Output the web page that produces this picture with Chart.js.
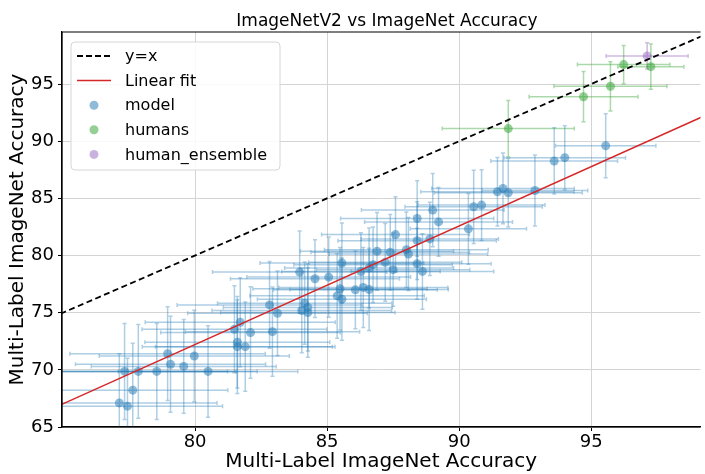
<!DOCTYPE html>
<html>
<head>
<meta charset="utf-8">
<script src="https://cdn.jsdelivr.net/npm/chart.js@4.4.0/dist/chart.umd.min.js"></script>
<style>
  html, body { margin: 0; padding: 0; background: #fff; }
  #wrap { width: 705px; height: 474px; }
</style>
</head>
<body>
<div id="wrap"><canvas id="chart" width="705" height="474"></canvas></div>
<script>
// Axis ticks
const xTicks = [80, 85, 90, 95];
const yTicks = [65, 70, 75, 80, 85, 90, 95];

// Models: accuracy and error half-widths
const modelX = [95.55, 93.6, 94.0, 91.45, 91.66, 91.86, 92.87, 90.55, 90.85, 89.0,
  88.41, 89.22, 90.35, 87.59, 88.41, 88.89, 88.0, 88.08, 86.89, 87.39,
  85.56, 87.2, 86.74, 86.59, 86.28, 83.96, 88.41, 88.61, 87.5, 84.54,
  85.06, 85.49, 86.07, 86.37, 86.59, 85.38, 85.56, 82.82, 83.12, 84.15,
  84.27, 84.04, 84.27, 81.71, 81.49, 82.1, 82.93, 81.6, 81.6, 81.9,
  79.97, 78.96, 79.07, 79.57, 80.49, 78.55, 77.85, 77.33, 77.64, 77.13, 77.44];
const modelY = [89.6, 88.27, 88.56, 85.58, 85.87, 85.49, 85.69, 84.26, 84.41, 83.97,
  83.24, 82.94, 82.33, 81.83, 81.3, 81.45, 80.51, 80.13, 80.37, 80.28,
  79.34, 79.4, 79.2, 78.9, 78.6, 78.55, 79.28, 78.61, 78.76, 77.97,
  78.11, 77.09, 77.0, 77.21, 77.03, 76.47, 76.18, 75.68, 74.95, 75.83,
  75.45, 75.19, 75.01, 74.16, 73.55, 73.26, 73.34, 72.41, 72.03, 72.03,
  71.21, 71.41, 70.48, 70.3, 69.86, 69.86, 69.86, 69.86, 68.22, 67.11, 66.82];
const modelXErr = [1.9, 2.4, 2.3, 2.9, 2.7, 2.8, 2.0, 2.6, 2.4, 2.7,
  2.9, 2.8, 2.2, 2.8, 3.0, 2.6, 3.1, 3.0, 2.9, 3.0,
  3.1, 2.9, 3.0, 3.2, 3.0, 3.3, 2.8, 2.7, 2.9, 3.2,
  3.1, 3.3, 3.1, 3.2, 3.0, 3.3, 3.2, 3.5, 3.4, 3.3,
  3.2, 3.4, 3.3, 3.6, 3.5, 3.4, 3.3, 3.5, 3.6, 3.4,
  3.6, 3.7, 3.6, 3.5, 3.4, 3.8, 3.7, 3.9, 3.6, 3.7, 3.6];
const modelYErr = [2.8, 2.9, 2.8, 3.0, 3.1, 3.0, 3.1, 3.2, 3.1, 3.2,
  3.3, 3.0, 3.1, 3.3, 3.4, 3.2, 3.3, 3.2, 3.4, 3.3,
  3.5, 3.4, 3.3, 3.5, 3.4, 3.6, 3.1, 3.3, 3.2, 3.4,
  3.5, 3.6, 3.4, 3.5, 3.6, 3.7, 3.6, 3.8, 3.7, 3.6,
  3.8, 3.7, 3.9, 3.9, 3.8, 4.0, 3.9, 4.0, 4.1, 3.9,
  4.0, 4.1, 4.2, 4.1, 4.0, 4.2, 4.1, 4.2, 4.1, 4.3, 4.2];

// Individual human labelers
const humanX = [91.86, 94.71, 95.73, 96.23, 97.26];
const humanY = [91.1, 93.89, 94.8, 96.7, 96.52];
const humanXErr = [2.5, 2.06, 2.14, 1.75, 1.25];
const humanYErr = [2.46, 2.2, 2.15, 1.68, 1.97];

// Ensemble of humans
const ensembleX = [97.12];
const ensembleY = [97.46];
const ensembleXErr = [1.55];
const ensembleYErr = [1.14];

// Reference lines
const diagX = [74.9, 99.5];
const diagY = [74.9, 99.5];
const fitX = [74.9, 99.5];
const fitY = [66.93, 92.44];

const FONT = "'DejaVu Sans', 'Liberation Sans', sans-serif";

function toPoints(xs, ys) {
  return xs.map((x, i) => ({ x: x, y: ys[i] }));
}

// draws x/y error bars with caps under the markers
const errorBars = {
  id: 'errorBars',
  beforeDatasetsDraw(chart) {
    const ctx = chart.ctx;
    const xs = chart.scales.x, ys = chart.scales.y;
    const area = chart.chartArea;
    ctx.save();
    ctx.beginPath();
    ctx.rect(area.left, area.top, area.right - area.left, area.bottom - area.top);
    ctx.clip();
    chart.data.datasets.forEach(ds => {
      if (!ds.errX) return;
      ctx.strokeStyle = ds.errColor;
      ctx.lineWidth = 1.5;
      const cap = 2;
      ds.data.forEach((p, i) => {
        const cx = xs.getPixelForValue(p.x);
        const cy = ys.getPixelForValue(p.y);
        const x0 = xs.getPixelForValue(p.x - ds.errX[i]);
        const x1 = xs.getPixelForValue(p.x + ds.errX[i]);
        const y0 = ys.getPixelForValue(p.y - ds.errY[i]);
        const y1 = ys.getPixelForValue(p.y + ds.errY[i]);
        ctx.beginPath();
        ctx.moveTo(x0, cy); ctx.lineTo(x1, cy);
        ctx.moveTo(cx, y0); ctx.lineTo(cx, y1);
        ctx.moveTo(x0, cy - cap); ctx.lineTo(x0, cy + cap);
        ctx.moveTo(x1, cy - cap); ctx.lineTo(x1, cy + cap);
        ctx.moveTo(cx - cap, y0); ctx.lineTo(cx + cap, y0);
        ctx.moveTo(cx - cap, y1); ctx.lineTo(cx + cap, y1);
        ctx.stroke();
      });
    });
    ctx.restore();
  }
};

// frame, title and legend box
const decorations = {
  id: 'decorations',
  afterDraw(chart) {
    const ctx = chart.ctx;
    const a = chart.chartArea;
    ctx.save();
    ctx.strokeStyle = '#000';
    ctx.lineWidth = 1.2;
    ctx.beginPath();
    ctx.moveTo(a.left, a.bottom);
    ctx.lineTo(a.left, a.top);
    ctx.lineTo(a.right, a.top);
    ctx.moveTo(a.left, a.bottom);
    ctx.lineTo(a.right, a.bottom);
    ctx.stroke();

    ctx.fillStyle = '#000';
    ctx.font = '17px ' + FONT;
    ctx.textAlign = 'center';
    ctx.textBaseline = 'alphabetic';
    ctx.fillText('ImageNetV2 vs ImageNet Accuracy', 387, 26);

    // legend
    const bx = 71, by = 42, bw = 209, bh = 128, r = 4;
    ctx.beginPath();
    ctx.moveTo(bx + r, by);
    ctx.arcTo(bx + bw, by, bx + bw, by + bh, r);
    ctx.arcTo(bx + bw, by + bh, bx, by + bh, r);
    ctx.arcTo(bx, by + bh, bx, by, r);
    ctx.arcTo(bx, by, bx + bw, by, r);
    ctx.closePath();
    ctx.fillStyle = 'rgba(255,255,255,0.85)';
    ctx.fill();
    ctx.strokeStyle = '#d6d6d6';
    ctx.lineWidth = 1;
    ctx.stroke();

    const items = [
      { label: 'y=x', kind: 'dash', color: '#000' },
      { label: 'Linear fit', kind: 'line', color: '#d62728' },
      { label: 'model', kind: 'dot', color: 'rgba(31,119,180,0.5)' },
      { label: 'humans', kind: 'dot', color: 'rgba(44,160,44,0.5)' },
      { label: 'human_ensemble', kind: 'dot', color: 'rgba(148,103,189,0.5)' }
    ];
    ctx.font = '16px ' + FONT;
    ctx.textAlign = 'left';
    ctx.textBaseline = 'middle';
    items.forEach((it, i) => {
      const yy = 56 + i * 24.6;
      if (it.kind === 'dot') {
        ctx.fillStyle = it.color;
        ctx.beginPath();
        ctx.arc(94, yy, 4.5, 0, Math.PI * 2);
        ctx.fill();
      } else {
        ctx.strokeStyle = it.color;
        ctx.lineWidth = it.kind === 'dash' ? 1.8 : 1.5;
        ctx.setLineDash(it.kind === 'dash' ? [6, 3] : []);
        ctx.beginPath();
        ctx.moveTo(77, yy);
        ctx.lineTo(111, yy);
        ctx.stroke();
        ctx.setLineDash([]);
      }
      ctx.fillStyle = '#000';
      ctx.fillText(it.label, 125, yy + 1);
    });
    ctx.restore();
  }
};

new Chart(document.getElementById('chart'), {
  type: 'scatter',
  data: {
    datasets: [
      {
        label: 'human_ensemble',
        data: toPoints(ensembleX, ensembleY),
        errX: ensembleXErr, errY: ensembleYErr,
        errColor: 'rgba(148,103,189,0.45)',
        backgroundColor: 'rgba(148,103,189,0.5)',
        borderWidth: 0, pointRadius: 4.5, order: 3
      },
      {
        label: 'humans',
        data: toPoints(humanX, humanY),
        errX: humanXErr, errY: humanYErr,
        errColor: 'rgba(44,160,44,0.4)',
        backgroundColor: 'rgba(44,160,44,0.5)',
        borderWidth: 0, pointRadius: 4.5, order: 3
      },
      {
        label: 'model',
        data: toPoints(modelX, modelY),
        errX: modelXErr, errY: modelYErr,
        errColor: 'rgba(31,119,180,0.36)',
        backgroundColor: 'rgba(31,119,180,0.5)',
        borderWidth: 0, pointRadius: 4.5, order: 3
      },
      {
        label: 'y=x',
        data: toPoints(diagX, diagY),
        showLine: true, pointRadius: 0,
        borderColor: '#000', borderWidth: 1.8, borderDash: [6, 3.5],
        order: 1
      },
      {
        label: 'Linear fit',
        data: toPoints(fitX, fitY),
        showLine: true, pointRadius: 0,
        borderColor: '#d62728', borderWidth: 1.5,
        order: 2
      }
    ]
  },
  options: {
    responsive: false,
    animation: false,
    layout: { padding: { top: 32, right: 0, bottom: 0, left: 0 } },
    plugins: {
      legend: { display: false },
      title: { display: false },
      tooltip: { enabled: false }
    },
    scales: {
      x: {
        type: 'linear',
        min: 74.96, max: 99.14,
        afterFit: s => { s.height = 47; },
        afterBuildTicks: s => { s.ticks = xTicks.map(v => ({ value: v })); },
        grid: { color: '#d4d4d4', lineWidth: 1, tickLength: 4, tickColor: '#000' },
        border: { display: true, color: '#000', width: 1.2 },
        ticks: { color: '#000', font: { family: FONT, size: 18 }, padding: 1, maxRotation: 0 },
        title: {
          display: true, text: 'Multi-Label ImageNet Accuracy', color: '#000',
          font: { family: FONT, size: 20 }, padding: { top: 0, bottom: 0 }
        }
      },
      y: {
        type: 'linear',
        min: 65, max: 99.55,
        afterFit: s => { s.width = 62; },
        afterBuildTicks: s => { s.ticks = yTicks.map(v => ({ value: v })); },
        grid: { color: '#d4d4d4', lineWidth: 1, tickLength: 4, tickColor: '#000' },
        border: { display: true, color: '#000', width: 1.2 },
        ticks: { color: '#000', font: { family: FONT, size: 18 }, padding: 4 },
        title: {
          display: true, text: 'Multi-Label ImageNet Accuracy', color: '#000',
          font: { family: FONT, size: 20 }, padding: { top: 6, bottom: 0 }
        }
      }
    }
  },
  plugins: [errorBars, decorations]
});
</script>
</body>
</html>
